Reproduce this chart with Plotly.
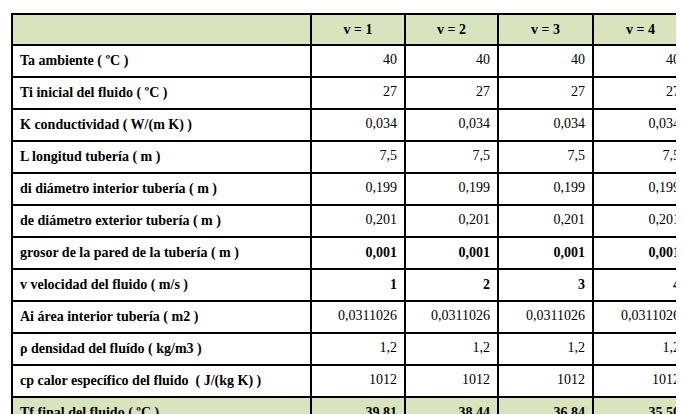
import plotly.graph_objects as go

headers = ["", "v = 1", "v = 2", "v = 3", "v = 4"]
labels = ["Ta ambiente ( ºC )", "Ti inicial del fluido ( ºC )", "K conductividad ( W/(m K) )",
          "L longitud tubería ( m )", "di diámetro interior tubería ( m )",
          "de diámetro exterior tubería ( m )", "grosor de la pared de la tubería ( m )",
          "v velocidad del fluido ( m/s )", "Ai área interior tubería ( m2 )",
          "ρ densidad del fluído ( kg/m3 )", "cp calor específico del fluido  ( J/(kg K) )",
          "Tf final del fluido ( ºC )"]
v1 = ["40", "27", "0,034", "7,5", "0,199", "0,201", "0,001", "1", "0,0311026", "1,2", "1012", "39,81"]
v2 = ["40", "27", "0,034", "7,5", "0,199", "0,201", "0,001", "2", "0,0311026", "1,2", "1012", "38,44"]
v3 = ["40", "27", "0,034", "7,5", "0,199", "0,201", "0,001", "3", "0,0311026", "1,2", "1012", "36,84"]
v4 = ["40", "27", "0,034", "7,5", "0,199", "0,201", "0,001", "4", "0,0311026", "1,2", "1012", "35,50"]
bold_rows = [6, 7, 11]

def fmt(col):
    return [f"<b>{v}</b>" if i in bold_rows else v for i, v in enumerate(col)]

green = "#d7e4bd"
fills = [green if i == len(labels) - 1 else "white" for i in range(len(labels))]

fig = go.Figure(go.Table(
    columnwidth=[299, 94, 93, 95, 95],
    header=dict(values=[f"<b>{h}</b>" for h in headers], fill_color=green,
                line=dict(color="black", width=1.5), align="center",
                font=dict(family="Liberation Serif", size=14, color="black"), height=30),
    cells=dict(values=[[f"<b>{l}</b>" for l in labels], fmt(v1), fmt(v2), fmt(v3), fmt(v4)],
               fill_color=[fills] * 5, line=dict(color="black", width=1.5),
               align=["left", "right", "right", "right", "right"],
               font=dict(family="Liberation Serif", size=14, color="black"), height=30),
))
fig.update_layout(width=684, height=414, margin=dict(l=4, r=4, t=6, b=0),
                  paper_bgcolor="white")
fig.write_html("out.html")
